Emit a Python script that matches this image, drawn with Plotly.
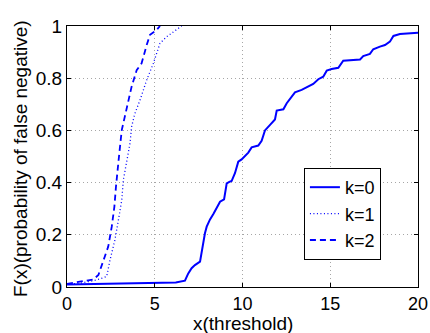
import plotly.graph_objects as go

# Empirical CDF of the detection threshold for three values of k
x_k0 = [0.0, 5.87, 6.2, 6.72, 6.91, 7.1, 7.29, 7.58, 7.67, 7.77, 7.86, 7.96, 8.15, 8.34,
        8.53, 8.72, 8.95, 9.1, 9.25, 9.38, 9.57, 9.76, 9.95, 10.14, 10.33, 10.52, 10.9,
        11.09, 11.28, 11.57, 11.76, 11.85, 11.95, 12.33, 12.52, 12.71, 12.99, 13.37,
        13.75, 14.03, 14.32, 14.6, 14.8, 15.08, 15.46, 15.74, 16.7, 16.88, 17.26, 17.45,
        17.83, 18.12, 18.4, 18.6, 18.97, 20.0]
y_k0 = [0.01, 0.014, 0.017, 0.024, 0.052, 0.072, 0.084, 0.097, 0.135, 0.167, 0.206, 0.231,
        0.259, 0.28, 0.301, 0.327, 0.336, 0.397, 0.403, 0.406, 0.436, 0.48, 0.489, 0.503,
        0.515, 0.535, 0.542, 0.56, 0.6, 0.621, 0.633, 0.642, 0.676, 0.681, 0.704, 0.723,
        0.746, 0.755, 0.77, 0.778, 0.796, 0.806, 0.829, 0.835, 0.84, 0.867, 0.872, 0.885,
        0.893, 0.911, 0.921, 0.927, 0.94, 0.962, 0.969, 0.974]

x_k1 = [0.0, 0.8, 1.69, 2.26, 2.45, 2.73, 2.93, 3.12, 3.21, 3.4, 3.59, 3.68, 3.87, 4.16,
        4.54, 4.92, 5.11, 5.3, 5.68, 6.06, 6.34, 6.53]
y_k1 = [0.01, 0.015, 0.027, 0.04, 0.103, 0.18, 0.257, 0.333, 0.41, 0.487, 0.55, 0.614,
        0.665, 0.716, 0.793, 0.857, 0.895, 0.934, 0.959, 0.978, 0.991, 1.0]

x_k2 = [0.0, 0.74, 1.5, 1.79, 2.07, 2.35, 2.55, 2.7, 2.79, 2.87, 2.98, 3.12, 3.3, 3.5,
        3.68, 3.97, 4.25, 4.54, 4.73, 5.11, 5.3]
y_k2 = [0.012, 0.02, 0.029, 0.046, 0.103, 0.155, 0.231, 0.308, 0.384, 0.448, 0.512, 0.601,
        0.653, 0.704, 0.767, 0.831, 0.857, 0.927, 0.966, 0.985, 1.0]

x_ticks = [0, 5, 10, 15, 20]
y_ticks = [0, 0.2, 0.4, 0.6, 0.8, 1]
y_tick_text = ["0", "0.2", "0.4", "0.6", "0.8", "1"]

BLUE = "#0000ff"
FONT = "Liberation Sans, Arial, sans-serif"

fig = go.Figure()
fig.add_trace(go.Scatter(x=x_k0, y=y_k0, mode="lines", name="k=0",
                         line=dict(color=BLUE, width=2, dash="solid")))
fig.add_trace(go.Scatter(x=x_k1, y=y_k1, mode="lines", name="k=1",
                         line=dict(color=BLUE, width=1.3, dash="1px,2.5px")))
fig.add_trace(go.Scatter(x=x_k2, y=y_k2, mode="lines", name="k=2",
                         line=dict(color=BLUE, width=1.8, dash="6px,4px")))

axis_common = dict(
    showline=True, linecolor="black", linewidth=1, mirror="allticks",
    ticks="inside", ticklen=4, tickcolor="black", automargin=False,
    showgrid=True, gridcolor="#a6a6a6", griddash="1px,3px", gridwidth=1,
    zeroline=False, tickfont=dict(family=FONT, size=19, color="black"),
)

fig.update_xaxes(range=[0, 20], tickvals=x_ticks, ticklabelstandoff=0, **axis_common)
fig.update_xaxes(tickfont=dict(size=18))
fig.update_yaxes(range=[0, 1], tickvals=y_ticks, ticktext=y_tick_text, **axis_common)

fig.update_layout(
    width=430, height=333,
    margin=dict(l=67, r=12, t=26, b=46),
    plot_bgcolor="white", paper_bgcolor="white",
    font=dict(family=FONT, size=19, color="black"),
    showlegend=True,
    legend=dict(x=0.675, y=0.456, xanchor="left", yanchor="top",
                bgcolor="white", bordercolor="black", borderwidth=1,
                font=dict(family=FONT, size=18, color="black"),
                itemwidth=30, tracegroupgap=0),
    annotations=[
        dict(text="x(threshold)", xref="paper", yref="paper", x=0.5, y=-0.14,
             xanchor="center", yanchor="middle", showarrow=False,
             font=dict(family=FONT, size=19, color="black")),
        dict(text="F(x)(probability of false negative)", xref="paper", yref="paper",
             x=-0.134, y=0.494, xanchor="center", yanchor="middle", textangle=-90,
             showarrow=False, font=dict(family=FONT, size=19, color="black")),
    ],
)

fig.write_html("out.html")
